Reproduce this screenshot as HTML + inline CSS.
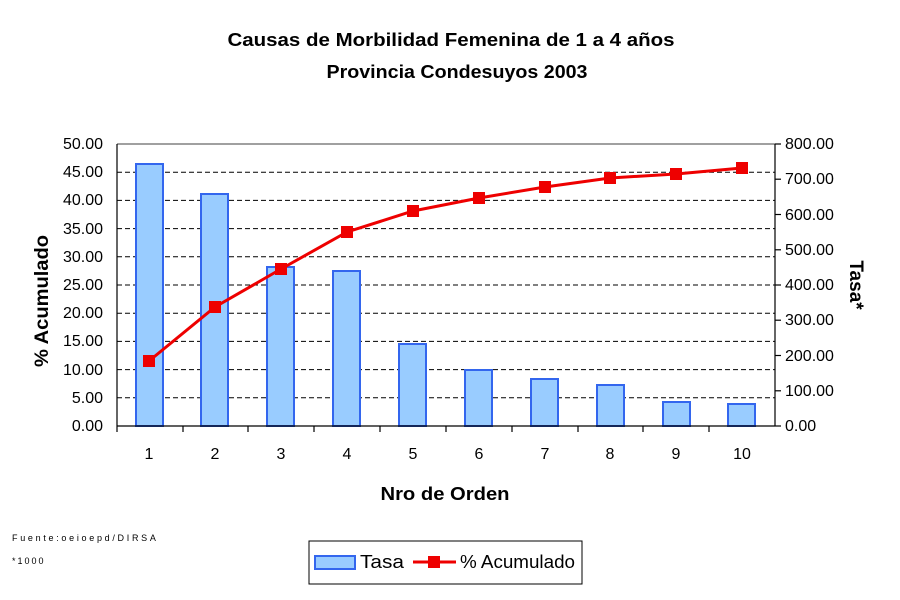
<!DOCTYPE html>
<html><head><meta charset="utf-8"><style>body{margin:0;background:#fff}svg{display:block}</style></head><body>
<svg width="900" height="600" xmlns="http://www.w3.org/2000/svg" font-family="Liberation Sans, Arial, sans-serif">
<rect width="900" height="600" fill="#fff"/>
<text x="451" y="46" font-size="18" font-weight="bold" text-anchor="middle" textLength="447" lengthAdjust="spacingAndGlyphs">Causas de Morbilidad Femenina de 1 a 4 años</text>
<text x="457" y="78" font-size="18" font-weight="bold" text-anchor="middle" textLength="261" lengthAdjust="spacingAndGlyphs">Provincia Condesuyos 2003</text>
<g stroke="#000" stroke-dasharray="5,3" stroke-width="1">
<line x1="117" x2="775" y1="172.2" y2="172.2"/><line x1="117" x2="775" y1="200.4" y2="200.4"/>
<line x1="117" x2="775" y1="228.6" y2="228.6"/><line x1="117" x2="775" y1="256.8" y2="256.8"/>
<line x1="117" x2="775" y1="285" y2="285"/><line x1="117" x2="775" y1="313.2" y2="313.2"/>
<line x1="117" x2="775" y1="341.4" y2="341.4"/><line x1="117" x2="775" y1="369.6" y2="369.6"/>
<line x1="117" x2="775" y1="397.8" y2="397.8"/>
</g>
<line x1="117" x2="775" y1="144" y2="144" stroke="#808080" stroke-width="1.5"/>
<g fill="#99ccff" stroke="#3366ee" stroke-width="2">
<rect x="136" y="164" width="27" height="262"/><rect x="201" y="194" width="27" height="232"/>
<rect x="267" y="267" width="27" height="159"/><rect x="333" y="271" width="27" height="155"/>
<rect x="399" y="344" width="27" height="82"/><rect x="465" y="370" width="27" height="56"/>
<rect x="531" y="379" width="27" height="47"/><rect x="597" y="385" width="27" height="41"/>
<rect x="663" y="402" width="27" height="24"/><rect x="728" y="404" width="27" height="22"/>
</g>
<g stroke="#000" stroke-width="1.2">
<line x1="117" x2="117" y1="144" y2="426"/><line x1="775" x2="775" y1="144" y2="426"/>
<line x1="117" x2="775" y1="426" y2="426"/>
<line x1="117" x2="117" y1="426" y2="432"/><line x1="183" x2="183" y1="426" y2="432"/>
<line x1="248" x2="248" y1="426" y2="432"/><line x1="314" x2="314" y1="426" y2="432"/>
<line x1="380" x2="380" y1="426" y2="432"/><line x1="446" x2="446" y1="426" y2="432"/>
<line x1="512" x2="512" y1="426" y2="432"/><line x1="578" x2="578" y1="426" y2="432"/>
<line x1="643" x2="643" y1="426" y2="432"/><line x1="709" x2="709" y1="426" y2="432"/>
<line x1="775" x2="781" y1="144" y2="144"/><line x1="775" x2="781" y1="179.2" y2="179.2"/>
<line x1="775" x2="781" y1="214.5" y2="214.5"/><line x1="775" x2="781" y1="249.8" y2="249.8"/>
<line x1="775" x2="781" y1="285" y2="285"/><line x1="775" x2="781" y1="320.2" y2="320.2"/>
<line x1="775" x2="781" y1="355.5" y2="355.5"/><line x1="775" x2="781" y1="390.8" y2="390.8"/>
<line x1="775" x2="781" y1="426" y2="426"/>
</g>
<polyline fill="none" stroke="#ee0000" stroke-width="3" points="149,361 215,307 281,269 347,232 413,211 479,198 545,187 610,178 676,174 742,168"/>
<g fill="#ee0000">
<rect x="143" y="355" width="12" height="12"/><rect x="209" y="301" width="12" height="12"/>
<rect x="275" y="263" width="12" height="12"/><rect x="341" y="226" width="12" height="12"/>
<rect x="407" y="205" width="12" height="12"/><rect x="473" y="192" width="12" height="12"/>
<rect x="539" y="181" width="12" height="12"/><rect x="604" y="172" width="12" height="12"/>
<rect x="670" y="168" width="12" height="12"/><rect x="736" y="162" width="12" height="12"/>
</g>
<g font-size="16" text-anchor="end">
<text x="103" y="149">50.00</text><text x="103" y="177">45.00</text><text x="103" y="205">40.00</text>
<text x="103" y="234">35.00</text><text x="103" y="262">30.00</text><text x="103" y="290">25.00</text>
<text x="103" y="318">20.00</text><text x="103" y="346">15.00</text><text x="103" y="375">10.00</text>
<text x="103" y="403">5.00</text><text x="103" y="431">0.00</text>
</g>
<g font-size="16" text-anchor="start">
<text x="785" y="149">800.00</text><text x="785" y="184">700.00</text><text x="785" y="220">600.00</text>
<text x="785" y="255">500.00</text><text x="785" y="290">400.00</text><text x="785" y="325">300.00</text>
<text x="785" y="361">200.00</text><text x="785" y="396">100.00</text><text x="785" y="431">0.00</text>
</g>
<g font-size="16" text-anchor="middle">
<text x="149" y="459">1</text><text x="215" y="459">2</text><text x="281" y="459">3</text>
<text x="347" y="459">4</text><text x="413" y="459">5</text><text x="479" y="459">6</text>
<text x="545" y="459">7</text><text x="610" y="459">8</text><text x="676" y="459">9</text>
<text x="742" y="459">10</text>
</g>
<text x="445" y="500" font-size="18" font-weight="bold" text-anchor="middle" textLength="129" lengthAdjust="spacingAndGlyphs">Nro de Orden</text>
<text transform="translate(48,301) rotate(-90)" font-size="19" font-weight="bold" text-anchor="middle" textLength="132" lengthAdjust="spacingAndGlyphs">% Acumulado</text>
<text transform="translate(850,285) rotate(90)" font-size="19" font-weight="bold" text-anchor="middle">Tasa*</text>
<text x="12" y="541" font-size="9" letter-spacing="2.7">Fuente:oeioepd/DIRSA</text>
<text x="12" y="564" font-size="9" letter-spacing="2">*1000</text>
<rect x="309" y="541" width="273" height="43" fill="#fff" stroke="#000" stroke-width="1"/>
<rect x="315" y="556" width="40" height="13" fill="#99ccff" stroke="#3366ee" stroke-width="2"/>
<text x="360" y="568" font-size="18" textLength="44" lengthAdjust="spacingAndGlyphs">Tasa</text>
<line x1="413" x2="456" y1="562" y2="562" stroke="#ee0000" stroke-width="3"/>
<rect x="428" y="556" width="12" height="12" fill="#ee0000"/>
<text x="460" y="568" font-size="18" textLength="115" lengthAdjust="spacingAndGlyphs">% Acumulado</text>
</svg>
</body></html>
